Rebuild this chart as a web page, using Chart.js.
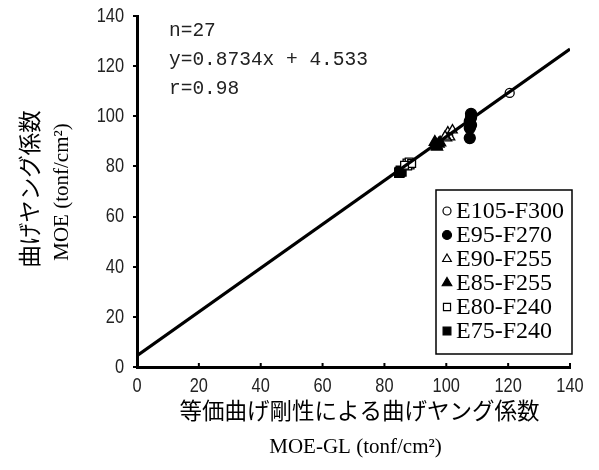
<!DOCTYPE html>
<html>
<head>
<meta charset="utf-8">
<script src="https://cdn.jsdelivr.net/npm/chart.js@4/dist/chart.umd.min.js"></script>
<style>
  html, body { margin: 0; padding: 0; background: #fff; }
  #wrap { width: 599px; height: 470px; position: relative; }
</style>
</head>
<body>
<div id="wrap"><canvas id="c" width="599" height="470"></canvas></div>
<script>
// Axis ticks
const xTicks = [0, 20, 40, 60, 80, 100, 120, 140];
const yTicks = [0, 20, 40, 60, 80, 100, 120, 140];

// Grade groups (legend order)
const gradeNames = ['E105-F300', 'E95-F270', 'E90-F255', 'E85-F255', 'E80-F240', 'E75-F240'];

// MOE-GL (x) and MOE (y) for each grade, tonf/cm²
const e105X = [120.5];
const e105Y = [109.3];
const e95X  = [108.0, 108.0, 107.6, 108.0, 107.6, 107.6];
const e95Y  = [101.0, 99.5, 98.0, 96.5, 95.3, 91.3];
const e90X  = [100.5, 101.2, 100.2, 102.0, 99.6];
const e90Y  = [93.7, 91.7, 91.3, 94.5, 92.0];
const e85X  = [96.3, 97.0, 97.5, 96.8, 98.0];
const e85Y  = [89.7, 87.8, 89.0, 88.5, 89.5];
const e80X  = [87.3, 88.3, 88.0, 87.5, 88.8, 86.5];
const e80Y  = [81.4, 80.6, 81.8, 80.2, 81.2, 80.5];
const e75X  = [85.0, 85.3, 84.8, 85.5];
const e75Y  = [77.8, 78.3, 77.5, 78.0];

// Regression: y = slope * x + intercept
const regSlope = 0.8734;
const regIntercept = 4.533;
const regRange = [0, 140];
const statLines = ['n=27', 'y=0.8734x + 4.533', 'r=0.98'];

const pts = (xs, ys) => xs.map((x, i) => ({ x: x, y: ys[i] }));

const markerStyles = [
  { pointStyle: 'circle',   filled: false, radius: 4.5 },
  { pointStyle: 'circle',   filled: true,  radius: 5.5 },
  { pointStyle: 'triangle', filled: false, radius: 5.5 },
  { pointStyle: 'triangle', filled: true,  radius: 6.5 },
  { pointStyle: 'rect',     filled: false, radius: 5.5 },
  { pointStyle: 'rect',     filled: true,  radius: 6.5 }
];
const groupData = [
  pts(e105X, e105Y), pts(e95X, e95Y), pts(e90X, e90Y),
  pts(e85X, e85Y), pts(e80X, e80Y), pts(e75X, e75Y)
];

const scatterSets = gradeNames.map((name, i) => ({
  type: 'scatter',
  label: name,
  data: groupData[i],
  pointStyle: markerStyles[i].pointStyle,
  pointRadius: markerStyles[i].radius,
  pointBackgroundColor: markerStyles[i].filled ? '#000' : '#fff',
  pointBorderColor: '#000',
  pointBorderWidth: 1.3,
  showLine: false
}));

const regLine = {
  type: 'line',
  label: 'fit',
  data: regRange.map(x => ({ x: x, y: regSlope * x + regIntercept })),
  borderColor: '#000',
  borderWidth: 3.2,
  pointRadius: 0,
  tension: 0
};

const sans = "'Liberation Sans', 'DejaVu Sans', sans-serif";
const mono = "'Liberation Mono', 'DejaVu Sans Mono', monospace";
const serif = "'Liberation Serif', 'DejaVu Serif', serif";
const jp = "'Noto Sans CJK JP', sans-serif";

// narrow numerals: regular sans squeezed horizontally
function narrowText(ctx, text, x, y, align) {
  ctx.save();
  ctx.translate(x, y);
  ctx.scale(0.78, 1);
  ctx.textAlign = align;
  ctx.fillText(text, 0, 0);
  ctx.restore();
}

// Tick labels, inward x ticks, texts and the boxed legend
const decorations = {
  id: 'decorations',
  afterDraw(chart) {
    const ctx = chart.ctx;
    const xs = chart.scales.x, ys = chart.scales.y;
    const area = chart.chartArea;
    ctx.save();
    ctx.fillStyle = '#000';
    ctx.strokeStyle = '#000';

    // small inward ticks on the x axis
    ctx.lineWidth = 2;
    xTicks.forEach(v => {
      const px = xs.getPixelForValue(v);
      ctx.beginPath();
      ctx.moveTo(px, area.bottom);
      ctx.lineTo(px, area.bottom - 4);
      ctx.stroke();
    });

    // tick labels
    ctx.fillStyle = '#222';
    ctx.font = '21px ' + sans;
    ctx.textBaseline = 'middle';
    yTicks.forEach(v => narrowText(ctx, String(v), area.left - 13, ys.getPixelForValue(v), 'right'));
    xTicks.forEach(v => narrowText(ctx, String(v), xs.getPixelForValue(v), area.bottom + 19, 'center'));

    // regression statistics
    ctx.font = '19.5px ' + mono;
    ctx.textAlign = 'left';
    ctx.fillText(statLines[0], 169, 31);
    ctx.fillText(statLines[1], 169, 60);
    ctx.fillText(statLines[2], 169, 89);

    // axis titles
    ctx.fillStyle = '#000';
    ctx.textAlign = 'center';
    const cx = (area.left + area.right) / 2;
    ctx.font = '22.5px ' + jp;
    ctx.fillText('等価曲げ剛性による曲げヤング係数', cx + 6, 410);
    ctx.font = '21px ' + serif;
    ctx.fillText('MOE-GL (tonf/cm²)', cx + 2, 447);

    ctx.save();
    ctx.translate(29, 189);
    ctx.rotate(-Math.PI / 2);
    ctx.font = '22.5px ' + jp;
    ctx.fillText('曲げヤング係数', 0, 0);
    ctx.restore();
    ctx.save();
    ctx.translate(62, 192);
    ctx.rotate(-Math.PI / 2);
    ctx.font = '21px ' + serif;
    ctx.fillText('MOE (tonf/cm²)', 0, 0);
    ctx.restore();

    // legend box
    const box = { l: 436, t: 190, r: 572, b: 354 };
    ctx.fillStyle = '#fff';
    ctx.fillRect(box.l, box.t, box.r - box.l, box.b - box.t);
    ctx.lineWidth = 1.5;
    ctx.strokeRect(box.l, box.t, box.r - box.l, box.b - box.t);
    ctx.font = '24px ' + serif;
    ctx.textAlign = 'left';
    ctx.textBaseline = 'middle';
    gradeNames.forEach((name, i) => {
      const y = 211 + i * 24;
      const st = markerStyles[i];
      ctx.fillStyle = st.filled ? '#000' : '#fff';
      ctx.strokeStyle = '#000';
      ctx.lineWidth = 1.2;
      Chart.helpers.drawPoint(ctx, {
        pointStyle: st.pointStyle,
        radius: st.filled ? st.radius - 1 : st.radius - 0.5,
        borderWidth: 1.2,
        rotation: 0
      }, 447, y);
      ctx.fillStyle = '#000';
      ctx.fillText(name, 456, y + 1);
    });
    ctx.restore();
  }
};

new Chart(document.getElementById('c'), {
  data: { datasets: [regLine].concat(scatterSets) },
  options: {
    responsive: false,
    animation: false,
    devicePixelRatio: 1,
    layout: { padding: { top: 16, right: 29, left: 0, bottom: 0 } },
    plugins: { legend: { display: false }, tooltip: { enabled: false } },
    scales: {
      x: {
        type: 'linear',
        min: 0, max: 140,
        afterFit(s) { s.height = 103; },
        afterBuildTicks(s) { s.ticks = xTicks.map(v => ({ value: v })); },
        grid: { display: true, drawOnChartArea: false, drawTicks: false },
        border: { display: true, color: '#000', width: 3 },
        ticks: { display: false }
      },
      y: {
        type: 'linear',
        min: 0, max: 140,
        afterFit(s) { s.width = 137; },
        afterBuildTicks(s) { s.ticks = yTicks.map(v => ({ value: v })); },
        grid: { display: true, drawOnChartArea: false, drawTicks: true, tickLength: 4, color: '#000', lineWidth: 2 },
        border: { display: true, color: '#000', width: 3 },
        ticks: { display: false }
      }
    }
  },
  plugins: [decorations]
});
</script>
</body>
</html>
